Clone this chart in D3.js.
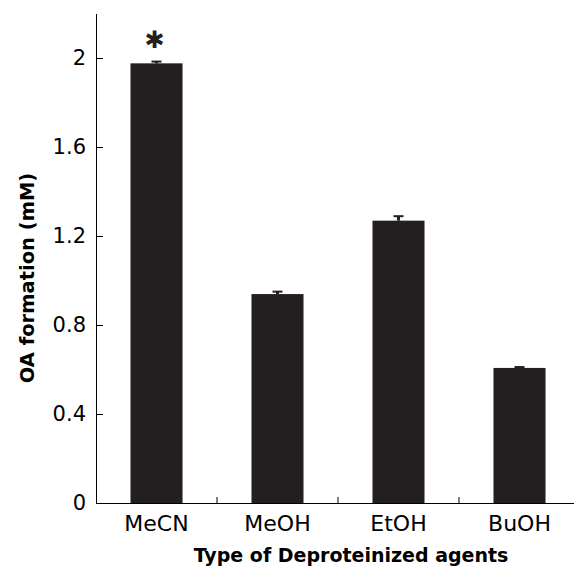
<!DOCTYPE html>
<html>
<head>
<meta charset="UTF-8">
<script src="https://cdn.jsdelivr.net/npm/d3@7/dist/d3.min.js"></script>
<style>
  body { margin: 0; background: #fff; }
  svg { display: block; font-family: "DejaVu Sans", Verdana, sans-serif; }
  .axis path, .axis line { stroke: #000; fill: none; }
  .axis text { fill: #000; }
</style>
</head>
<body>
<svg width="574" height="569"></svg>
<script>
// data
const categories = ["MeCN", "MeOH", "EtOH", "BuOH"];
const values = [1.976, 0.939, 1.269, 0.607];
const errors = [0.008, 0.011, 0.02, 0.004];
const significant = [true, false, false, false];
const yTicks = [0, 0.4, 0.8, 1.2, 1.6, 2];

const svg = d3.select("svg");
const barColor = "#231f20";
const font = "DejaVu Sans, Verdana, sans-serif";

const x = d3.scaleBand().domain(categories).range([96, 580]).padding(0);
const y = d3.scaleLinear().domain([0, 2.2]).range([503, 13.5]);
const barW = x.bandwidth() * 0.43;

// bars
svg.selectAll("rect.bar")
  .data(categories)
  .join("rect")
  .attr("class", "bar")
  .attr("x", (d) => x(d) + x.bandwidth() / 2 - barW / 2)
  .attr("width", barW)
  .attr("y", (d, i) => y(values[i]))
  .attr("height", (d, i) => y(0) - y(values[i]))
  .attr("fill", barColor);

// error bars (upper half only)
const eb = svg.selectAll("g.err").data(categories).join("g")
  .attr("class", "err")
  .attr("transform", (d) => `translate(${x(d) + x.bandwidth() / 2},0)`);
eb.append("line")
  .attr("y1", (d, i) => y(values[i]))
  .attr("y2", (d, i) => y(values[i] + errors[i]))
  .attr("stroke", barColor).attr("stroke-width", 3);
eb.append("line")
  .attr("x1", -5).attr("x2", 5)
  .attr("y1", (d, i) => y(values[i] + errors[i]))
  .attr("y2", (d, i) => y(values[i] + errors[i]))
  .attr("stroke", barColor).attr("stroke-width", 2);

// significance mark
svg.selectAll("text.star")
  .data(categories.filter((d, i) => significant[i]))
  .join("text")
  .attr("class", "star")
  .attr("x", (d) => x(d) + x.bandwidth() / 2 - 2)
  .attr("y", (d) => y(values[categories.indexOf(d)] + errors[categories.indexOf(d)]) - 14)
  .attr("text-anchor", "middle")
  .attr("font-size", 24)
  .attr("fill", barColor)
  .text("\u2731");

// y axis, ticks pointing inward
svg.append("g")
  .attr("class", "axis")
  .attr("transform", "translate(96,0)")
  .call(d3.axisLeft(y).tickValues(yTicks).tickSizeInner(-7).tickSizeOuter(0).tickPadding(10)
    .tickFormat((d) => String(d)))
  .attr("font-family", font)
  .attr("font-size", 21);

// x axis: labels at centres, small ticks at band boundaries
const gx = svg.append("g")
  .attr("class", "axis")
  .attr("transform", `translate(0,${y(0)})`)
  .call(d3.axisBottom(x).tickSize(0).tickPadding(12))
  .attr("font-family", font)
  .attr("font-size", 22);
gx.selectAll("line.sep")
  .data(categories.slice(1))
  .join("line")
  .attr("class", "sep")
  .attr("x1", (d) => x(d)).attr("x2", (d) => x(d))
  .attr("y1", 0).attr("y2", -6);

// axis titles
svg.append("text")
  .attr("x", 351).attr("y", 562)
  .attr("text-anchor", "middle")
  .attr("font-size", 19).attr("font-weight", "bold")
  .text("Type of Deproteinized agents");

svg.append("text")
  .attr("transform", "translate(34,278) rotate(-90)")
  .attr("text-anchor", "middle")
  .attr("font-size", 19.5).attr("font-weight", "bold")
  .text("OA formation (mM)");
</script>
</body>
</html>
